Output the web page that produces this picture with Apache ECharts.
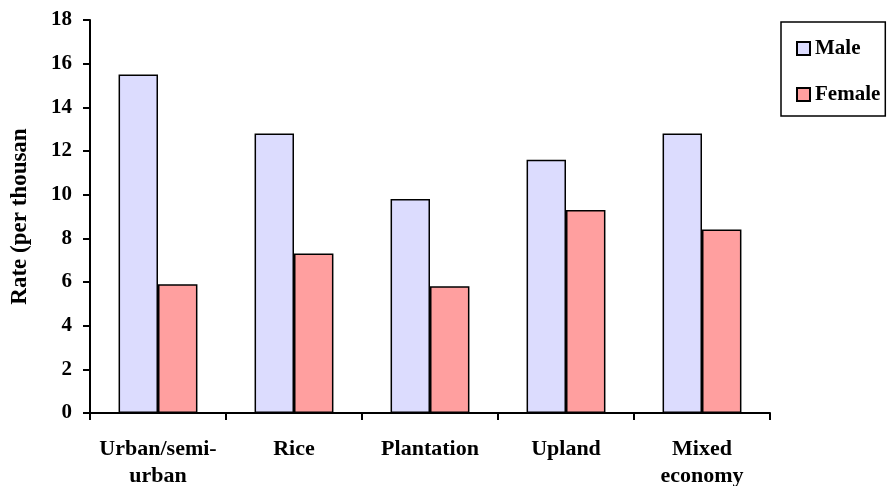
<!DOCTYPE html>
<html>
<head>
<meta charset="utf-8">
<script src="https://cdn.jsdelivr.net/npm/echarts@6/dist/echarts.min.js"></script>
<style>
  html, body { margin: 0; padding: 0; background: #fff; }
  #chart { width: 889px; height: 486px; }
</style>
</head>
<body>
<div id="chart"></div>
<script>
// Rates by farming-system zone, per thousand
const categories = ['Urban/semi-\nurban', 'Rice', 'Plantation', 'Upland', 'Mixed\neconomy'];
const maleRates = [15.5, 12.8, 9.8, 11.6, 12.8];
const femaleRates = [5.9, 7.3, 5.8, 9.3, 8.4];
const yTicks = [0, 2, 4, 6, 8, 10, 12, 14, 16, 18];

const FONT = '"Liberation Serif", "Times New Roman", serif';

const chart = echarts.init(document.getElementById('chart'), null, { renderer: 'canvas' });

chart.setOption({
  animation: false,
  backgroundColor: '#ffffff',
  textStyle: { fontFamily: FONT, fontWeight: 'bold', color: '#000' },
  grid: { left: 90, right: 119, top: 20, bottom: 73, containLabel: false, outerBoundsMode: 'none' },
  legend: {
    orient: 'vertical',
    left: 781,
    top: 22,
    padding: [16, 5, 11, 15],
    itemWidth: 13,
    itemHeight: 13,
    itemGap: 25,
    borderColor: '#000',
    borderWidth: 1.5,
    borderRadius: 0,
    icon: 'rect',
    textStyle: { fontFamily: FONT, fontWeight: 'bold', fontSize: 21, color: '#000' },
    data: ['Male', 'Female']
  },
  xAxis: {
    type: 'category',
    data: categories,
    boundaryGap: true,
    axisLine: { lineStyle: { color: '#000', width: 2 } },
    axisTick: { show: true, alignWithLabel: false, length: 7, inside: false, lineStyle: { color: '#000', width: 2 } },
    axisLabel: {
      interval: 0,
      margin: 23,
      fontFamily: FONT,
      fontWeight: 'bold',
      fontSize: 22,
      lineHeight: 27,
      color: '#000'
    },
    splitLine: { show: false }
  },
  yAxis: {
    type: 'value',
    min: yTicks[0],
    max: yTicks[yTicks.length - 1],
    interval: 2,
    name: 'Rate (per thousand)',
    nameLocation: 'middle',
    nameGap: 58,
    nameTruncate: { maxWidth: 186, ellipsis: '' },
    nameTextStyle: {
      fontFamily: FONT,
      fontWeight: 'bold',
      fontSize: 23,
      color: '#000'
    },
    axisLine: { show: true, lineStyle: { color: '#000', width: 2 } },
    axisTick: { show: true, length: 7, lineStyle: { color: '#000', width: 2 } },
    axisLabel: {
      margin: 18,
      fontFamily: FONT,
      fontWeight: 'bold',
      fontSize: 21,
      color: '#000'
    },
    splitLine: { show: false }
  },
  series: [
    {
      name: 'Male',
      type: 'bar',
      data: maleRates,
      barGap: '0%',
      barCategoryGap: '42%',
      itemStyle: { color: '#dcdcfe', borderColor: '#000', borderWidth: 1.5 }
    },
    {
      name: 'Female',
      type: 'bar',
      data: femaleRates,
      barGap: '0%',
      barCategoryGap: '42%',
      itemStyle: { color: '#ff9f9f', borderColor: '#000', borderWidth: 1.5 }
    }
  ]
});
</script>
</body>
</html>
